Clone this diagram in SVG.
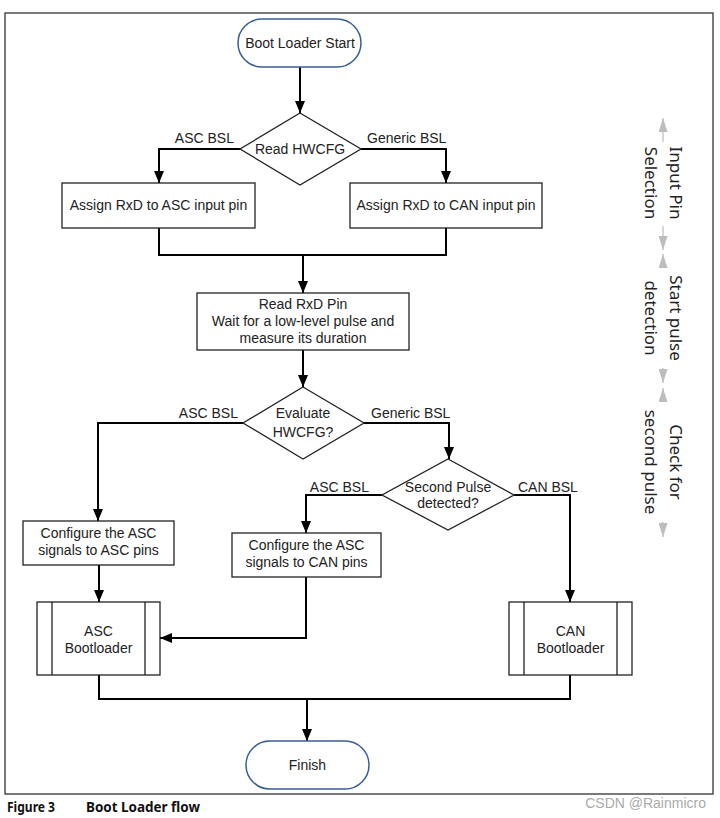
<svg xmlns="http://www.w3.org/2000/svg" width="720" height="818" viewBox="0 0 720 818">
<defs>
<marker id="ah" viewBox="0 0 12 10" refX="12" refY="5" markerWidth="12" markerHeight="10" markerUnits="userSpaceOnUse" orient="auto"><path d="M0,0 L12,5 L0,10 z" fill="#000"/></marker>
<marker id="gh" viewBox="0 0 14 9" refX="14" refY="4.5" markerWidth="14" markerHeight="9" markerUnits="userSpaceOnUse" orient="auto"><path d="M0,0 L14,4.5 L0,9 z" fill="#bdbdbd"/></marker>
<style>
.t{font-family:"Liberation Sans",Arial,sans-serif;font-size:14px;fill:#222;text-anchor:middle}
.l{font-family:"Liberation Sans",Arial,sans-serif;font-size:14px;fill:#222}
.box{fill:#fff;stroke:#222;stroke-width:1.3}
.term{fill:#fff;stroke:#3a5d96;stroke-width:1.5}
.c{fill:none;stroke:#000;stroke-width:2}
.ca{fill:none;stroke:#000;stroke-width:2;marker-end:url(#ah)}
.g{fill:none;stroke:#bdbdbd;stroke-width:1.2;marker-end:url(#gh)}
.r{font-family:"Noto Sans","Open Sans",sans-serif;font-size:17px;fill:#222;text-anchor:middle}
</style>
</defs>
<rect x="5" y="13" width="708" height="781" fill="#fff" stroke="#333" stroke-width="1.3"/>
<g id="connectors">
<path class="ca" d="M300,67 V113"/>
<path class="ca" d="M240,149 H159 V183"/>
<path class="ca" d="M361,149 H446 V183"/>
<path class="c" d="M159,228 V255 H446 V228"/>
<path class="ca" d="M303,255 V293"/>
<path class="ca" d="M303,350 V387"/>
<path class="ca" d="M243,423 H98 V521"/>
<path class="ca" d="M364,423 H449 V459"/>
<path class="ca" d="M382,495 H306 V533"/>
<path class="ca" d="M514,495 H570 V602"/>
<path class="ca" d="M99,565 V602"/>
<path class="ca" d="M306,577 V638 H160"/>
<path class="c" d="M99,675 V699 H570 V675"/>
<path class="ca" d="M307,699 V741"/>
<text class="l" x="234" y="143" text-anchor="end">ASC BSL</text>
<text class="l" x="367" y="143">Generic BSL</text>
<text class="l" x="238" y="418" text-anchor="end">ASC BSL</text>
<text class="l" x="371" y="418">Generic BSL</text>
<text class="l" x="369" y="492" text-anchor="end">ASC BSL</text>
<text class="l" x="518" y="492">CAN BSL</text>
</g>
<g id="start"><rect class="term" x="238" y="19" width="123" height="48" rx="24"/><text class="t" x="300" y="48">Boot Loader Start</text></g>
<g id="readHWCFG"><path class="box" d="M300,113 L361,149 L300,185 L240,149 z"/><text class="t" x="300" y="154">Read HWCFG</text></g>
<g id="assignASC"><rect class="box" x="62" y="183" width="193" height="45"/><text class="t" x="158.5" y="210">Assign RxD to ASC input pin</text></g>
<g id="assignCAN"><rect class="box" x="350" y="183" width="192" height="45"/><text class="t" x="446" y="210">Assign RxD to CAN input pin</text></g>
<g id="readRxD"><rect class="box" x="197" y="293" width="212" height="57"/><text class="t" x="303" y="309">Read RxD Pin</text><text class="t" x="303" y="326">Wait for a low-level pulse and</text><text class="t" x="303" y="343">measure its duration</text></g>
<g id="evalHWCFG"><path class="box" d="M303,387 L364,423 L303,459 L243,423 z"/><text class="t" x="303" y="418">Evaluate</text><text class="t" x="303" y="437">HWCFG?</text></g>
<g id="secondPulse"><path class="box" d="M448,459 L514,495 L448,530 L382,495 z"/><text class="t" x="448" y="492">Second Pulse</text><text class="t" x="448" y="508">detected?</text></g>
<g id="cfgASC"><rect class="box" x="23" y="521" width="151" height="44"/><text class="t" x="98.5" y="538">Configure the ASC</text><text class="t" x="98.5" y="555">signals to ASC pins</text></g>
<g id="cfgCAN"><rect class="box" x="232" y="533" width="149" height="44"/><text class="t" x="306.5" y="550">Configure the ASC</text><text class="t" x="306.5" y="567">signals to CAN pins</text></g>
<g id="ascBL"><rect class="box" x="37" y="602" width="123" height="73"/><path class="box" d="M52,602 V675 M145,602 V675"/><text class="t" x="98.5" y="636">ASC</text><text class="t" x="98.5" y="653">Bootloader</text></g>
<g id="canBL"><rect class="box" x="509" y="602" width="123" height="73"/><path class="box" d="M524,602 V675 M617,602 V675"/><text class="t" x="570.5" y="636">CAN</text><text class="t" x="570.5" y="653">Bootloader</text></g>
<g id="finish"><rect class="term" x="246" y="741" width="123" height="48" rx="24"/><text class="t" x="307.5" y="770">Finish</text></g>
<g id="phases">
<path class="g" d="M663,142 V118"/><path class="g" d="M663,226 V250"/>
<path class="g" d="M663,268 V254"/><path class="g" d="M663,368 V383"/>
<path class="g" d="M663,402 V388"/><path class="g" d="M663,522 V537"/>
<text class="r" transform="translate(670,183) rotate(90)">Input Pin</text>
<text class="r" transform="translate(645,183) rotate(90)">Selection</text>
<text class="r" transform="translate(670,318) rotate(90)">Start pulse</text>
<text class="r" transform="translate(645,318) rotate(90)">detection</text>
<text class="r" transform="translate(670,462) rotate(90)">Check for</text>
<text class="r" transform="translate(645,462) rotate(90)">second pulse</text>
</g>
<text x="7" y="812" font-family="'Noto Sans','Open Sans',sans-serif" font-weight="bold" font-size="13.5" fill="#111" textLength="48" lengthAdjust="spacingAndGlyphs">Figure 3</text>
<text x="86" y="812" font-family="'Noto Sans','Open Sans',sans-serif" font-weight="bold" font-size="13.5" fill="#111" textLength="114" lengthAdjust="spacingAndGlyphs">Boot Loader flow</text>
<text x="706" y="808" font-family="'Liberation Sans',Arial,sans-serif" font-size="14" fill="#aaa" text-anchor="end">CSDN @Rainmicro</text>
</svg>
